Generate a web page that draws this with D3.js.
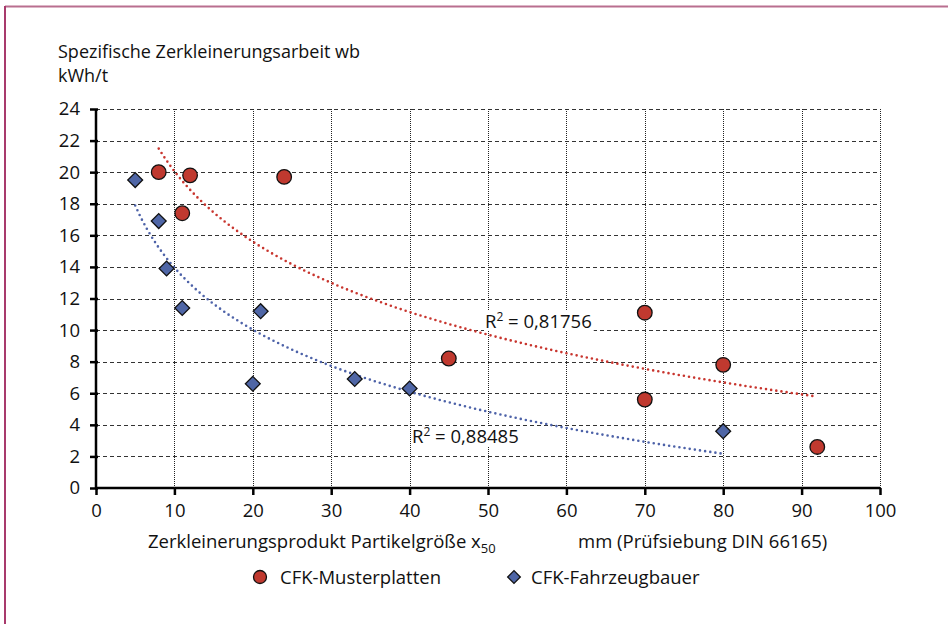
<!DOCTYPE html>
<html>
<head>
<meta charset="utf-8">
<script src="https://cdn.jsdelivr.net/npm/d3@7"></script>
<style>
  body { margin: 0; background: #fff; }
  svg text { font-family: "Open Sans", "Noto Sans", sans-serif; fill: #111; }
</style>
</head>
<body>
<div id="chart"></div>
<script>
// CFK-Musterplatten (circles)
const musterX = [8, 12, 11, 24, 45, 70, 70, 80, 92]
const musterY = [20.0, 19.8, 17.4, 19.7, 8.2, 11.1, 5.6, 7.8, 2.6]
// CFK-Fahrzeugbauer (diamonds)
const fahrX = [5, 8, 9, 11, 21, 20, 33, 40, 80]
const fahrY = [19.5, 16.9, 13.9, 11.4, 11.2, 6.6, 6.9, 6.3, 3.6]

const xTicks = [0, 10, 20, 30, 40, 50, 60, 70, 80, 90, 100]
const yTicks = [0, 2, 4, 6, 8, 10, 12, 14, 16, 18, 20, 22, 24]
const seriesNames = ["CFK-Musterplatten", "CFK-Fahrzeugbauer"]
const r2Labels = ["0,81756", "0,88485"]

const width = 948, height = 624
const fs = "18.5px"
const svg = d3.select("#chart").append("svg")
  .attr("width", width)
  .attr("height", height)

// frame (top + left edges only)
svg.append("line").attr("x1", 5).attr("x2", width).attr("y1", 6.5).attr("y2", 6.5)
  .attr("stroke", "#b96f8f").attr("stroke-width", 2)
svg.append("line").attr("x1", 5).attr("x2", 5).attr("y1", 6).attr("y2", height)
  .attr("stroke", "#a83a6c").attr("stroke-width", 2)

const x = d3.scaleLinear().domain([0, 100]).range([96, 880])
const y = d3.scaleLinear().domain([0, 24]).range([488, 109])

// grid
svg.append("g").selectAll("line")
  .data(yTicks.filter(d => d > 0))
  .join("line")
    .attr("x1", x(0)).attr("x2", x(100))
    .attr("y1", d => Math.round(y(d)) + 0.5).attr("y2", d => Math.round(y(d)) + 0.5)
    .attr("stroke", "#333").attr("stroke-width", 1)
    .attr("stroke-dasharray", "4,3")

svg.append("g").selectAll("line")
  .data(xTicks.filter(d => d > 0))
  .join("line")
    .attr("x1", d => Math.round(x(d)) + 0.5).attr("x2", d => Math.round(x(d)) + 0.5)
    .attr("y1", y(0)).attr("y2", y(24))
    .attr("stroke", "#222").attr("stroke-width", 1)
    .attr("stroke-dasharray", "1,1")

// axes
const xAxis = svg.append("g")
  .attr("transform", "translate(0," + y(0) + ")")
  .call(d3.axisBottom(x).tickValues(xTicks).tickSize(7).tickPadding(9).tickFormat(d3.format("d")))
const yAxis = svg.append("g")
  .attr("transform", "translate(" + x(0) + ",0)")
  .call(d3.axisLeft(y).tickValues(yTicks).tickSize(6).tickPadding(10).tickFormat(d3.format("d")))

;[xAxis, yAxis].forEach(a => {
  a.select(".domain").attr("stroke", "#000").attr("stroke-width", 2.5)
  a.selectAll(".tick line").attr("stroke", "#000").attr("stroke-width", 2.5)
  a.selectAll(".tick text").style("font-size", fs).attr("fill", "#111")
})
yAxis.select(".domain").attr("d", "M0," + (y(0) + 1) + "V" + y(24))
xAxis.select(".domain").attr("d", "M" + (x(0) - 1) + ",0H" + x(100))
yAxis.selectAll(".tick line").attr("x2", -6).attr("x1", 2)

// logarithmic trend lines, least squares fit y = a + b ln x
function logFit(xs, ys) {
  const lx = xs.map(Math.log)
  const mx = d3.mean(lx), my = d3.mean(ys)
  const sxy = d3.sum(lx, (v, i) => (v - mx) * (ys[i] - my))
  const sxx = d3.sum(lx, v => (v - mx) * (v - mx))
  const b = sxy / sxx
  return { a: my - b * mx, b: b }
}

const trendColors = ["#c8352e", "#4d62a8"]
const seriesData = [
  { xs: musterX, ys: musterY },
  { xs: fahrX, ys: fahrY }
]

seriesData.forEach((s, i) => {
  const fit = logFit(s.xs, s.ys)
  const ext = d3.extent(s.xs)
  const pts = d3.range(0, 101).map(k => {
    const xv = ext[0] + (ext[1] - ext[0]) * k / 100
    return [xv, fit.a + fit.b * Math.log(xv)]
  })
  svg.append("path")
    .datum(pts)
    .attr("fill", "none")
    .attr("stroke", trendColors[i])
    .attr("stroke-width", 2.6)
    .attr("stroke-linecap", "round")
    .attr("stroke-dasharray", "0,5.2")
    .attr("d", d3.line().x(d => x(d[0])).y(d => y(d[1])))
})

// R² labels
const r2Pos = [[485, 328], [412, 443]]
r2Pos.forEach((p, i) => {
  const t = svg.append("text")
    .attr("x", p[0]).attr("y", p[1])
    .style("font-size", fs)
  t.append("tspan").text("R")
  t.append("tspan").attr("dy", -7).style("font-size", "12px").text("2")
  t.append("tspan").attr("dy", 7).text(" = " + r2Labels[i])
  const bb = t.node().getBBox()
  svg.insert("rect", function() { return t.node() })
    .attr("x", bb.x - 1).attr("y", bb.y + 3)
    .attr("width", bb.width + 3).attr("height", bb.height - 5)
    .attr("fill", "#fff")
})

// markers
const diamond = d3.symbol().type(d3.symbolSquare).size(110)

svg.append("g").selectAll("circle")
  .data(musterX.map((v, i) => [v, musterY[i]]))
  .join("circle")
    .attr("cx", d => x(d[0])).attr("cy", d => y(d[1]))
    .attr("r", 7.3)
    .attr("fill", "#c0392f")
    .attr("stroke", "#111").attr("stroke-width", 1.3)

svg.append("g").selectAll("path")
  .data(fahrX.map((v, i) => [v, fahrY[i]]))
  .join("path")
    .attr("d", diamond)
    .attr("transform", d => "translate(" + x(d[0]) + "," + y(d[1]) + ") rotate(45)")
    .attr("fill", "#4f66a6")
    .attr("stroke", "#111").attr("stroke-width", 1.3)

// titles
svg.append("text").attr("x", 58).attr("y", 58).style("font-size", "18px")
  .text("Spezifische Zerkleinerungsarbeit wb")
svg.append("text").attr("x", 58).attr("y", 82).style("font-size", "18px")
  .text("kWh/t")

const xt = svg.append("text").attr("x", 148).attr("y", 548).style("font-size", fs)
xt.append("tspan").text("Zerkleinerungsprodukt Partikelgröße x")
xt.append("tspan").attr("dy", 5).style("font-size", "13px").text("50")
svg.append("text").attr("x", 578).attr("y", 548).style("font-size", fs)
  .text("mm (Prüfsiebung DIN 66165)")

// legend
const legend = svg.append("g")
legend.append("circle").attr("cx", 260).attr("cy", 577).attr("r", 6.5)
  .attr("fill", "#c0392f").attr("stroke", "#111").attr("stroke-width", 1.3)
legend.append("text").attr("x", 280).attr("y", 584).style("font-size", fs).text(seriesNames[0])
legend.append("path").attr("d", d3.symbol().type(d3.symbolSquare).size(80))
  .attr("transform", "translate(514,577) rotate(45)")
  .attr("fill", "#4f66a6").attr("stroke", "#111").attr("stroke-width", 1.3)
legend.append("text").attr("x", 531).attr("y", 584).style("font-size", fs).text(seriesNames[1])
</script>
</body>
</html>
